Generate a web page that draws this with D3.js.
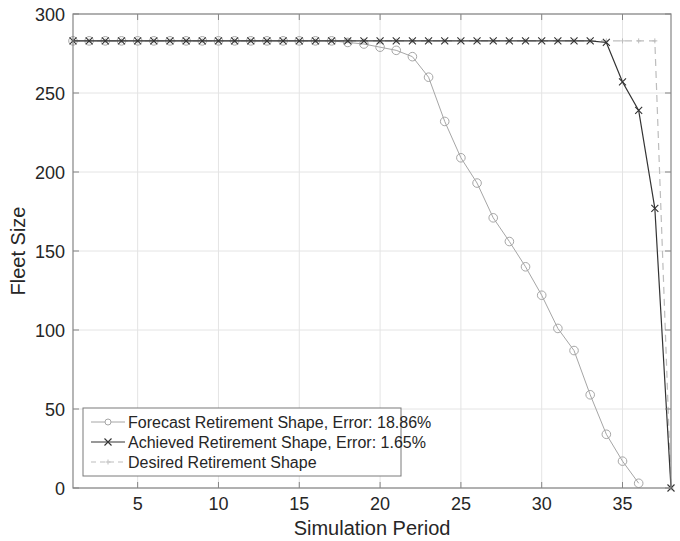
<!DOCTYPE html>
<html>
<head>
<meta charset="utf-8">
<script src="https://cdn.jsdelivr.net/npm/d3@7"></script>
<style>
  html, body { margin: 0; padding: 0; background: #fff; }
  svg { display: block; font-family: "Liberation Sans", Arial, sans-serif; }
</style>
</head>
<body>
<svg id="chart" width="680" height="541"></svg>
<script>
// ---- data ----
const periods = d3.range(1, 39); // 1..38
const forecastValues = [283,283,283,283,283,283,283,283,283,283,283,283,283,283,283,283,283,282,281,279,277,273,260,232,209,193,171,156,140,122,101,87,59,34,17,3];
const achievedValues = [283,283,283,283,283,283,283,283,283,283,283,283,283,283,283,283,283,283,283,283,283,283,283,283,283,283,283,283,283,283,283,283,283,282,257,239,177,0];
const desiredValues  = [283,283,283,283,283,283,283,283,283,283,283,283,283,283,283,283,283,283,283,283,283,283,283,283,283,283,283,283,283,283,283,283,283,283,283,283,283,0];
const xTicks = [5,10,15,20,25,30,35];
const yTicks = [0,50,100,150,200,250,300];
const legendLabels = ["Forecast Retirement Shape, Error: 18.86%", "Achieved Retirement Shape, Error: 1.65%", "Desired Retirement Shape"];
const xLabel = "Simulation Period";
const yLabel = "Fleet Size";

// ---- layout ----
const svg = d3.select("#chart");
const m = {left: 73, right: 671, top: 14, bottom: 488};
const x = d3.scaleLinear().domain([1, 38]).range([m.left, m.right]);
const y = d3.scaleLinear().domain([0, 300]).range([m.bottom, m.top]);
const textColor = "#262626";
const axisColor = "#858585";
const tickFont = 18, labelFont = 20, legendFont = 16;

// grid
const g = svg.append("g");
g.selectAll(".gx").data(xTicks).join("line")
  .attr("x1", d => x(d)).attr("x2", d => x(d))
  .attr("y1", m.top).attr("y2", m.bottom)
  .attr("stroke", "#e4e4e4").attr("stroke-width", 1);
g.selectAll(".gy").data(yTicks).join("line")
  .attr("y1", d => y(d)).attr("y2", d => y(d))
  .attr("x1", m.left).attr("x2", m.right)
  .attr("stroke", "#e4e4e4").attr("stroke-width", 1);

// data series
const series = [
  {vals: forecastValues, color: "#a6a6a6", dash: null, marker: "o", width: 1},
  {vals: achievedValues, color: "#333333", dash: null, marker: "x", width: 1.2},
  {vals: desiredValues, color: "#bdbdbd", dash: "7,5", marker: "+", width: 1.2}
];

function drawMarker(sel, type, color, cx, cy) {
  if (type === "o") {
    sel.append("circle").attr("cx", cx).attr("cy", cy).attr("r", 4.3)
      .attr("fill", "none").attr("stroke", color).attr("stroke-width", 1);
  } else if (type === "x") {
    const s = 3.5;
    sel.append("path")
      .attr("d", `M${cx-s},${cy-s}L${cx+s},${cy+s}M${cx-s},${cy+s}L${cx+s},${cy-s}`)
      .attr("stroke", color).attr("stroke-width", 1.1).attr("fill", "none");
  } else if (type === "+") {
    const s = 2.5;
    sel.append("path")
      .attr("d", `M${cx-s},${cy}L${cx+s},${cy}M${cx},${cy-s}L${cx},${cy+s}`)
      .attr("stroke", color).attr("stroke-width", 1).attr("fill", "none");
  }
}

const line = d3.line().x(d => x(d[0])).y(d => y(d[1]));
[series[2], series[0], series[1]].forEach(s => {
  const pts = s.vals.map((v, i) => [periods[i], v]);
  const sg = svg.append("g");
  sg.append("path").datum(pts).attr("d", line)
    .attr("fill", "none").attr("stroke", s.color)
    .attr("stroke-width", s.width)
    .attr("stroke-dasharray", s.dash);
  pts.forEach(p => drawMarker(sg, s.marker, s.color, x(p[0]), y(p[1])));
});

// axes frame & ticks
const ax = svg.append("g");
ax.append("rect").attr("x", m.left).attr("y", m.top)
  .attr("width", m.right - m.left).attr("height", m.bottom - m.top)
  .attr("fill", "none").attr("stroke", axisColor).attr("stroke-width", 1.2);
const tl = 6;
xTicks.forEach(t => {
  ax.append("line").attr("x1", x(t)).attr("x2", x(t)).attr("y1", m.bottom).attr("y2", m.bottom - tl).attr("stroke", axisColor);
  ax.append("line").attr("x1", x(t)).attr("x2", x(t)).attr("y1", m.top).attr("y2", m.top + tl).attr("stroke", axisColor);
  ax.append("text").attr("x", x(t)).attr("y", m.bottom + 22)
    .attr("text-anchor", "middle").attr("font-size", tickFont).attr("fill", textColor).text(t);
});
yTicks.forEach(t => {
  ax.append("line").attr("y1", y(t)).attr("y2", y(t)).attr("x1", m.left).attr("x2", m.left + tl).attr("stroke", axisColor);
  ax.append("line").attr("y1", y(t)).attr("y2", y(t)).attr("x1", m.right).attr("x2", m.right - tl).attr("stroke", axisColor);
  ax.append("text").attr("x", m.left - 8).attr("y", y(t) + 6.5)
    .attr("text-anchor", "end").attr("font-size", tickFont).attr("fill", textColor).text(t);
});

// axis labels
svg.append("text").attr("x", (m.left + m.right) / 2).attr("y", 535)
  .attr("text-anchor", "middle").attr("font-size", labelFont).attr("fill", textColor).text(xLabel);
svg.append("text").attr("transform", `translate(25,${(m.top + m.bottom) / 2}) rotate(-90)`)
  .attr("text-anchor", "middle").attr("font-size", labelFont).attr("fill", textColor).text(yLabel);

// legend
const lg = svg.append("g");
const lx = 83, ly = 408, lw = 318, lh = 68, rowH = 20;
lg.append("rect").attr("x", lx).attr("y", ly).attr("width", lw).attr("height", lh)
  .attr("fill", "#fff").attr("stroke", "#7a7a7a").attr("stroke-width", 1);
series.forEach((s, i) => {
  const cy = ly + 14 + i * rowH;
  lg.append("line").attr("x1", lx + 8).attr("x2", lx + 42).attr("y1", cy).attr("y2", cy)
    .attr("stroke", s.color).attr("stroke-width", s.width).attr("stroke-dasharray", s.dash ? "5,4" : null);
  const mg = lg.append("g");
  if (s.marker === "o") {
    mg.append("circle").attr("cx", lx + 25).attr("cy", cy).attr("r", 3)
      .attr("fill", "#fff").attr("stroke", s.color);
  } else {
    drawMarker(mg, s.marker, s.color, lx + 25, cy);
  }
  lg.append("text").attr("x", lx + 45).attr("y", cy + 5.7)
    .attr("font-size", legendFont).attr("fill", textColor).text(legendLabels[i]);
});
</script>
</body>
</html>
